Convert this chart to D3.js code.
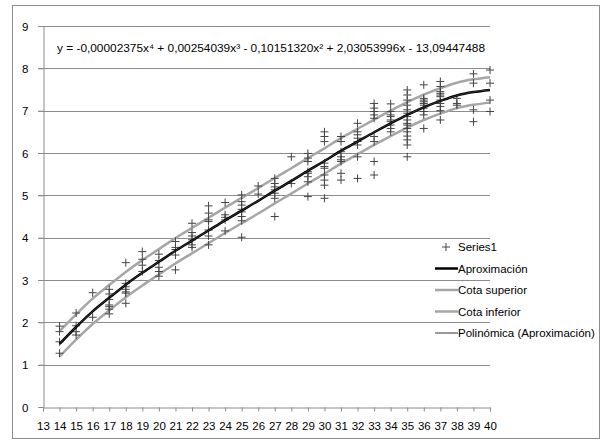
<!DOCTYPE html>
<html><head><meta charset="utf-8">
<script src="https://cdn.jsdelivr.net/npm/d3@7"></script>
<style>body{margin:0;background:#fff}svg{display:block}text{font-family:"Liberation Sans",Arial,sans-serif}</style>
</head><body>
<svg id="c" width="601" height="440"></svg>
<script>
const xTicks = d3.range(13, 41);
const yTicks = [0,1,2,3,4,5,6,7,8,9];
const xCats = [14,15,16,17,18,19,20,21,22,23,24,25,26,27,28,29,30,31,32,33,34,35,36,37,38,39,40];
const aprox = [1.49,1.89,2.26,2.58,2.89,3.17,3.43,3.69,3.93,4.17,4.41,4.64,4.87,5.11,5.34,5.58,5.81,6.05,6.27,6.49,6.70,6.90,7.08,7.23,7.36,7.44,7.49];
const cotaSup = [1.79,2.19,2.56,2.88,3.19,3.47,3.73,3.99,4.23,4.47,4.71,4.94,5.17,5.41,5.64,5.88,6.11,6.35,6.57,6.79,7.00,7.20,7.38,7.53,7.66,7.74,7.79];
const cotaInf = [1.19,1.59,1.96,2.28,2.59,2.87,3.13,3.39,3.63,3.87,4.11,4.34,4.57,4.81,5.04,5.28,5.51,5.75,5.97,6.19,6.40,6.60,6.78,6.93,7.06,7.14,7.19];
const polyCoef = [-13.09447488, 2.03053996, -0.10151320, 0.00254039, -0.00002375];
const equation = "y = -0,00002375x\u2074 + 0,00254039x\u00b3 - 0,10151320x\u00b2 + 2,03053996x - 13,09447488";
const seriesX = [14,14,14,14, 15,15,15,15, 16,16, 17,17,17,17,17,17,17, 18,18,18,18,18,18,18, 19,19,19,19, 20,20,20,20,20,
 21,21,21,21,21, 22,22,22,22,22,22, 23,23,23,23,23,23,23, 24,24,24,24,24, 25,25,25,25,25,25,25,25, 26,26,
 27,27,27,27,27,27,27, 28,28, 29,29,29,29,29,29,29,29, 30,30,30,30,30,30,30,30,30,30, 31,31,31,31,31,31,31,31,
 32,32,32,32,32,32,32,32, 33,33,33,33,33,33,33,33,33, 34,34,34,34,34,34,34,34,34,
 35,35,35,35,35,35,35,35,35,35,35,35,35,35,35,35, 36,36,36,36,36,36,36,36,36,36,
 37,37,37,37,37,37,37,37,37,37,37, 38,38,38, 39,39,39,39, 40,40,40,40];
const seriesY = [1.91,1.78,1.54,1.27, 2.22,1.92,1.78,1.70, 2.70,2.12, 2.78,2.67,2.54,2.41,2.37,2.31,2.20, 3.41,2.92,2.84,2.78,2.72,2.69,2.45, 3.67,3.49,3.35,3.20, 3.61,3.46,3.30,3.20,3.09,
 3.91,3.77,3.72,3.59,3.24, 4.34,4.12,4.04,3.95,3.83,3.77, 4.75,4.58,4.42,4.38,4.18,4.04,3.83, 4.83,4.54,4.48,4.42,4.16, 5.01,4.85,4.77,4.67,4.61,4.50,4.40,4.01, 5.22,5.03,
 5.40,5.28,5.20,5.13,5.05,4.93,4.50, 5.91,5.28, 5.99,5.88,5.80,5.56,5.52,5.44,5.32,4.97, 6.50,6.39,6.27,5.76,5.68,5.64,5.48,5.36,5.24,4.93, 6.39,6.27,6.03,5.91,5.84,5.80,5.52,5.36,
 6.70,6.50,6.43,6.35,6.27,6.19,5.91,5.40, 7.17,7.06,6.98,6.90,6.82,6.39,6.27,5.80,5.48, 7.16,6.98,6.90,6.86,6.78,6.74,6.66,6.58,6.50,
 7.49,7.37,7.25,7.13,7.02,6.94,6.86,6.78,6.70,6.66,6.58,6.50,6.40,6.31,6.19,5.91, 7.61,7.29,7.25,7.21,7.17,7.13,7.06,6.98,6.90,6.58,
 7.69,7.57,7.45,7.41,7.37,7.33,7.25,7.17,7.10,7.00,6.78, 7.29,7.17,7.13, 7.87,7.65,7.02,6.74, 7.96,7.65,7.25,6.98];
const legendLabels = ["Series1","Aproximación","Cota superior","Cota inferior","Polinómica (Aproximación)"];

const svg = d3.select("#c");
svg.append("rect").attr("x",12.5).attr("y",5.5).attr("width",587).attr("height",433)
  .attr("fill","#fff").attr("stroke","#8c8c8c");

const x = d3.scaleLinear().domain([13,40]).range([43,490]);
const y = d3.scaleLinear().domain([0,9]).range([407,26]);

// gridlines
svg.append("g").selectAll("line").data(yTicks.filter(d=>d>0)).join("line")
  .attr("x1",38).attr("x2",490).attr("y1",d=>Math.round(y(d))+0.5).attr("y2",d=>Math.round(y(d))+0.5)
  .attr("stroke","#8c8c8c").attr("stroke-width",1);

// axes
const yAxis = d3.axisLeft(y).tickValues(yTicks).tickSize(5).tickPadding(10).tickFormat(d3.format("d"));
const gy = svg.append("g").attr("transform","translate(43.5,0)").call(yAxis);
const xAxis = d3.axisBottom(x).tickValues(xTicks).tickSize(4).tickPadding(10).tickFormat(d3.format("d"));
const gx = svg.append("g").attr("transform","translate(0,407.5)").call(xAxis);
[gx,gy].forEach(g=>{
  g.select(".domain").attr("stroke","#8c8c8c");
  g.selectAll(".tick line").attr("stroke","#8c8c8c");
  g.selectAll("text").attr("fill","#000").style("font-size","11.5px").style("font-family","'Liberation Sans',Arial,sans-serif");
});
gy.selectAll(".tick text").attr("dy","0.35em");

// lines
const pts = vals => xCats.map((c,i)=>[c,vals[i]]);
const line = d3.line().x(d=>x(d[0])).y(d=>y(d[1])).curve(d3.curveCatmullRom.alpha(0.5));
svg.append("path").datum(pts(cotaSup)).attr("d",line).attr("fill","none").attr("stroke","#a6a6a6").attr("stroke-width",2.5);
svg.append("path").datum(pts(cotaInf)).attr("d",line).attr("fill","none").attr("stroke","#a6a6a6").attr("stroke-width",2.5);

// markers
const plus = d3.symbol().type(d3.symbolCross);
svg.append("g").selectAll("path").data(seriesX.map((c,i)=>[c,seriesY[i]])).join("path")
  .attr("d","M-4,0H4M0,-4V4").attr("transform",d=>`translate(${x(d[0])},${y(d[1])})`)
  .attr("stroke","#444").attr("stroke-width",1).attr("fill","none");

svg.append("path").datum(pts(aprox)).attr("d",line).attr("fill","none").attr("stroke","#000").attr("stroke-width",2.5);

// polynomial trendline
const poly = t => polyCoef.reduce((s,c,k)=>s+c*Math.pow(t,k),0);
const tx = d3.range(14,40.01,0.25);
svg.append("path").datum(tx.map(t=>[t,poly(t)])).attr("d",d3.line().x(d=>x(d[0])).y(d=>y(d[1])))
  .attr("fill","none").attr("stroke","#333").attr("stroke-width",1);

// equation
svg.append("text").attr("x",57).attr("y",52).style("font-size","11.5px").attr("fill","#000")
  .attr("textLength",428).attr("lengthAdjust","spacingAndGlyphs").text(equation);

// legend
const lg = svg.append("g");
legendLabels.forEach((lab,i)=>{
  const ly = 247 + i*21.5;
  const g = lg.append("g").attr("transform",`translate(0,${ly})`);
  if(i===0){
    g.append("path").attr("d","M-4,0H4M0,-4V4").attr("transform","translate(446,0)").attr("stroke","#444").attr("fill","none");
  } else {
    const col = i===1?"#000":(i===4?"#333":"#a6a6a6");
    const w = i===4?1:2.5;
    g.append("line").attr("x1",435).attr("x2",458).attr("y1",0).attr("y2",0).attr("stroke",col).attr("stroke-width",w);
  }
  g.append("text").attr("x",458).attr("y",4).style("font-size","11.5px").attr("fill","#000").text(lab);
});
</script>
</body></html>
